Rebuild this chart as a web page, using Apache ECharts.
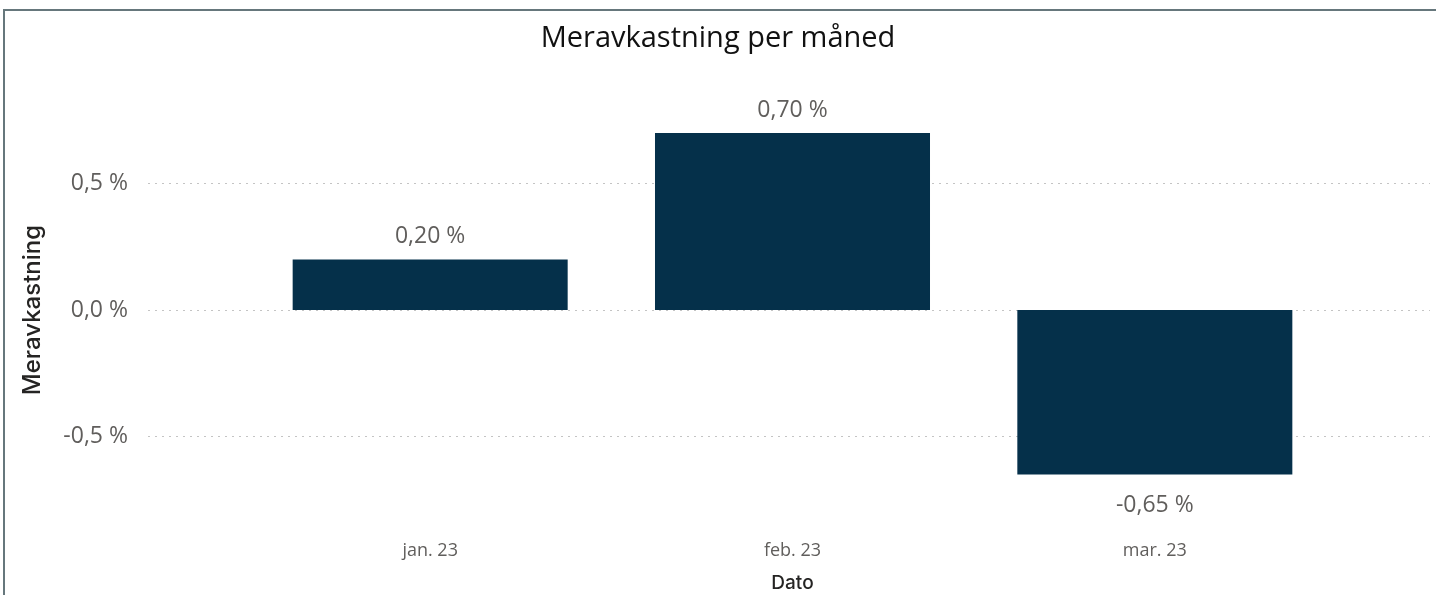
<!DOCTYPE html>
<html>
<head>
<meta charset="utf-8">
<script src="https://cdn.jsdelivr.net/npm/echarts@6/dist/echarts.min.js"></script>
<style>
body { margin: 0; padding: 0; background: #fff; }
#chart { position: absolute; left: 0; top: 0; width: 1436px; height: 595px; }
.frame {
  position: absolute; left: 3px; top: 9px; right: 0; bottom: 0;
  border-left: 2px solid #66777c; border-top: 2px solid #66777c;
  pointer-events: none;
}
</style>
</head>
<body>
<div id="chart"></div>
<div class="frame"></div>
<script>
const months = ['jan. 23', 'feb. 23', 'mar. 23']
const excess = [0.20, 0.70, -0.65]
const yTicks = [-1, -0.5, 0, 0.5, 1]

const pct = (v, d) => v.toFixed(d).replace('.', ',') + ' %'
const labelFont = "'Open Sans', 'Noto Sans', sans-serif"
const titleFont = "'Inter', 'DejaVu Sans', sans-serif"

const chart = echarts.init(document.getElementById('chart'))
chart.setOption({
  animation: false,
  title: {
    text: 'Meravkastning per måned',
    left: 'center',
    top: 19,
    textStyle: { fontFamily: labelFont, fontSize: 29, fontWeight: 'normal', color: '#111' }
  },
  grid: [
    // wide grid: y labels + dotted lines
    { left: 148, right: 6, top: 57, height: 506, outerBoundsMode: 'none' },
    // bar grid
    { left: 249, right: 100, top: 57, height: 506, outerBoundsMode: 'none' }
  ],
  xAxis: [
    { gridIndex: 0, type: 'category', data: months, show: false },
    {
      gridIndex: 1,
      type: 'category',
      data: months,
      offset: -33,
      axisLine: { show: false },
      axisTick: { show: false },
      axisLabel: { margin: 12, fontFamily: labelFont, fontSize: 18, color: '#605e5c' },
      name: 'Dato',
      nameLocation: 'middle',
      nameGap: 44,
      nameTextStyle: { fontFamily: titleFont, fontSize: 19, fontWeight: 500, color: '#252423' }
    }
  ],
  yAxis: [
    {
      gridIndex: 0,
      type: 'value',
      min: yTicks[0],
      max: yTicks[yTicks.length - 1],
      interval: 0.5,
      axisLine: { show: false },
      axisTick: { show: false },
      axisLabel: {
        showMinLabel: false,
        showMaxLabel: false,
        margin: 20,
        fontFamily: labelFont,
        fontSize: 23,
        color: '#605e5c',
        formatter: v => pct(v, 1)
      },
      splitLine: {
        showMinLine: false,
        showMaxLine: false,
        lineStyle: { color: '#c4c4c4', width: 1, type: [2, 5] }
      },
      name: 'Meravkastning',
      nameLocation: 'middle',
      nameGap: 103,
      nameTextStyle: { fontFamily: titleFont, fontSize: 24, fontWeight: 500, color: '#252423' }
    },
    {
      gridIndex: 1,
      type: 'value',
      min: yTicks[0],
      max: yTicks[yTicks.length - 1],
      interval: 0.5,
      show: false
    }
  ],
  series: [
    {
      type: 'bar',
      xAxisIndex: 1,
      yAxisIndex: 1,
      // negative labels sit a bit further from the bar end
      data: excess.map(v => ({ value: v, label: { distance: v < 0 ? 20 : 11 } })),
      barWidth: '75.9%',
      itemStyle: { color: '#05304a' },
      label: {
        show: true,
        position: 'outside',
        fontFamily: labelFont,
        fontSize: 23,
        color: '#605e5c',
        formatter: p => pct(p.value, 2)
      }
    }
  ]
})
</script>
</body>
</html>
